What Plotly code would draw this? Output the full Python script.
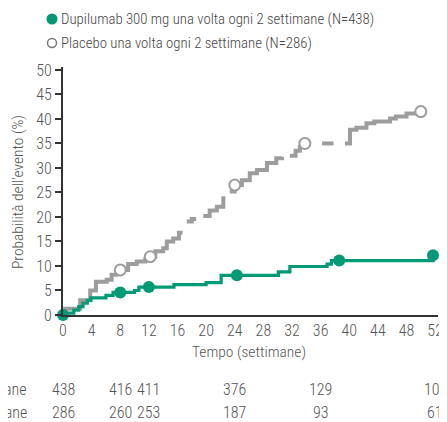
import plotly.graph_objects as go

# ---- data ----
dupi_t = [0, 0.3, 1.5, 2.2, 2.8, 3.4, 3.9, 6.0, 7.0, 10.0, 10.6, 15.5, 20.0, 22.1, 30.1, 31.7, 36.9, 37.5, 51.6, 51.7]
dupi_y = [0, 0.4, 1.0, 1.7, 2.4, 3.0, 3.5, 4.0, 4.6, 5.0, 5.7, 6.2, 6.6, 8.1, 8.8, 9.9, 10.4, 11.1, 11.1, 12.2]

plac_t = [0, 0.3, 2.4, 3.8, 4.6, 6.1, 6.8, 7.5, 8.0, 9.1, 10.3, 11.5, 12.2, 12.9, 14.0, 14.5, 15.4, 16.2, 16.7,
          16.8, 17.3, 18.0, 18.6,
          18.7, 19.6, 20.5, 21.5, 22.4, 22.7,
          22.8, 23.3, 24.0, 25.0, 26.1, 27.1, 28.5, 29.8, 30.6,
          30.7, 31.7, 32.5, 33.1, 33.8, 34.6,
          34.7, 36.2, 37.8,
          37.9, 39.4, 40.1, 41.0, 42.4, 43.5, 45.7, 46.5, 48.0, 50.0]
plac_y = [0, 1.3, 3.0, 5.0, 6.8, 7.2, 8.2, 8.8, 9.2, 10.4, 10.9, 11.4, 11.9, 13.0, 13.6, 15.0, 15.6, 16.8, 16.8,
          None, 19.1, 19.6, 19.6,
          None, 20.2, 21.3, 22.1, 23.8, 23.8,
          None, 25.2, 26.5, 27.5, 28.9, 29.6, 31.0, 32.0, 32.3,
          None, 32.5, 33.5, 34.3, 35.0, 35.0,
          None, 35.0, 35.0,
          None, 35.0, 37.8, 38.2, 39.1, 39.5, 40.1, 40.5, 41.1, 41.5]

dupi_mark_t = [0, 8, 12, 24.3, 38.6, 51.7]
dupi_mark_y = [0, 4.6, 5.7, 8.1, 11.1, 12.2]
plac_mark_t = [8.0, 12.2, 24.0, 33.8, 50.0]
plac_mark_y = [9.2, 11.9, 26.5, 35.0, 41.5]

x_ticks = list(range(0, 53, 4))
y_ticks = list(range(0, 51, 5))

risk_weeks = [0, 8, 12, 24, 36, 52]
risk_dupi = [438, 416, 411, 376, 129, 100]
risk_plac = [286, 260, 253, 187, 93, 61]

dupi_name = "Dupilumab 300 mg una volta ogni 2 settimane (N=438)"
plac_name = "Placebo una volta ogni 2 settimane (N=286)"
dupi_row = "Dupilumab 300 mg una volta ogni 2 settimane"
plac_row = "Placebo una volta ogni 2 settimane"
x_title = "Tempo (settimane)"
y_title = "Probabilità dell'evento (%)"

GREEN = "#009a74"
GRAY = "#9d9d9d"
TXT = "#555555"
FONT = "Roboto Condensed, Roboto, sans-serif"
W = 300

# page offset (body margin) compensation: screen px -> figure px
OFF = 8
L, R, T, B = 63 - OFF, 438 - OFF, 67 - OFF, 315 - OFF
def px(x):
    return (x - OFF - L) / (R - L)
def py(y):
    return (B - (y - OFF)) / (B - T)

def f(size, color=TXT):
    return dict(size=size, color=color, family=FONT, weight=W)

fig = go.Figure()
fig.add_trace(go.Scatter(x=plac_t, y=plac_y, mode="lines", line=dict(color=GRAY, width=4, shape="hv"),
                         connectgaps=False, showlegend=False, cliponaxis=False))
fig.add_trace(go.Scatter(x=plac_mark_t, y=plac_mark_y, mode="markers",
                         marker=dict(symbol="circle", size=11, color="white", line=dict(color=GRAY, width=2)),
                         showlegend=False, cliponaxis=False))
fig.add_trace(go.Scatter(x=dupi_t, y=dupi_y, mode="lines", line=dict(color=GREEN, width=3.2, shape="hv"),
                         showlegend=False, cliponaxis=False))
fig.add_trace(go.Scatter(x=dupi_mark_t, y=dupi_mark_y, mode="markers",
                         marker=dict(symbol="circle", size=12, color=GREEN),
                         showlegend=False, cliponaxis=False))

ann = []
for w, a, b in zip(risk_weeks, risk_dupi, risk_plac):
    ann.append(dict(x=w, y=py(389), xref="x", yref="paper", text=str(a), showarrow=False,
                    xanchor="center", yanchor="middle", font=f(16)))
    ann.append(dict(x=w, y=py(413), xref="x", yref="paper", text=str(b), showarrow=False,
                    xanchor="center", yanchor="middle", font=f(16)))
ann.append(dict(x=px(29), y=py(389), xref="paper", yref="paper", text=dupi_row, showarrow=False,
                xanchor="right", yanchor="middle", font=f(16)))
ann.append(dict(x=px(29), y=py(413), xref="paper", yref="paper", text=plac_row, showarrow=False,
                xanchor="right", yanchor="middle", font=f(16)))
# legend texts
ann.append(dict(x=px(59), y=py(19), xref="paper", yref="paper", text=dupi_name, showarrow=False,
                xanchor="left", yanchor="middle", font=f(14.8, "#444444")))
ann.append(dict(x=px(59), y=py(43), xref="paper", yref="paper", text=plac_name, showarrow=False,
                xanchor="left", yanchor="middle", font=f(14.8, "#444444")))
# axis titles
ann.append(dict(x=px(249), y=py(352), xref="paper", yref="paper", text=x_title, showarrow=False,
                xanchor="center", yanchor="middle", font=f(15.5)))
ann.append(dict(x=px(18), y=py(192), xref="paper", yref="paper", text=y_title, showarrow=False, textangle=-90,
                xanchor="center", yanchor="middle", font=f(15.5)))

shapes = [
    dict(type="circle", xref="paper", yref="paper", xsizemode="pixel", ysizemode="pixel",
         xanchor=px(52), yanchor=py(19), x0=-5.5, x1=5.5, y0=-5.5, y1=5.5,
         fillcolor=GREEN, line=dict(width=0)),
    dict(type="circle", xref="paper", yref="paper", xsizemode="pixel", ysizemode="pixel",
         xanchor=px(52), yanchor=py(43), x0=-4.5, x1=4.5, y0=-4.5, y1=4.5,
         fillcolor="white", line=dict(color="#777777", width=1.5)),
]

fig.update_layout(
    width=447, height=422,
    margin=dict(l=L, r=447 - R, t=T, b=422 - B, autoexpand=False),
    plot_bgcolor="white", paper_bgcolor="white",
    font=f(16),
    showlegend=False,
    xaxis=dict(range=[0, 52.4], tickvals=x_ticks, ticktext=[str(v) for v in x_ticks],
               showgrid=False, zeroline=False, showline=True, linecolor="#333333", linewidth=2,
               ticks="", tickfont=f(16)),
    yaxis=dict(range=[0, 50.6], tickvals=y_ticks, ticktext=[str(v) for v in y_ticks],
               showgrid=False, zeroline=False, showline=True, linecolor="#333333", linewidth=2,
               ticks="outside", ticklen=6, tickcolor="#333333", tickwidth=1.5,
               tickfont=f(16)),
    annotations=ann,
    shapes=shapes,
)

fig.write_html("out.html")
